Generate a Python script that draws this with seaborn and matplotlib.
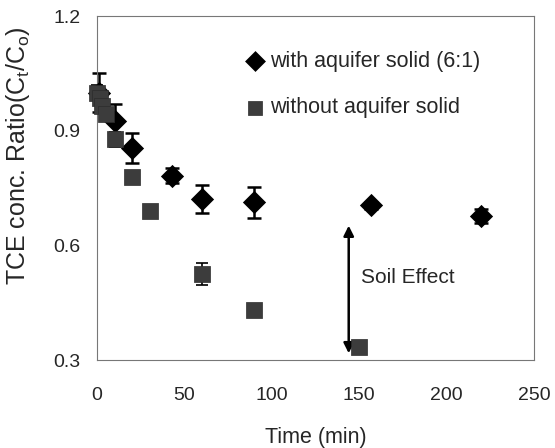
import pandas as pd
import matplotlib
matplotlib.use("Agg")
import matplotlib.pyplot as plt
import seaborn as sns

# with aquifer solid (6:1)
t_soil = [1, 10, 20, 43, 60, 90, 157, 220]
c_soil = [1.00, 0.925, 0.855, 0.783, 0.722, 0.713, 0.705, 0.677]
e_soil = [0.05, 0.045, 0.04, 0.02, 0.037, 0.04, 0.01, 0.018]

# without aquifer solid
t_water = [0, 1.5, 3, 5, 10, 20, 30, 60, 90, 150]
c_water = [1.00, 0.985, 0.965, 0.945, 0.878, 0.78, 0.69, 0.525, 0.43, 0.335]
e_water = [0.02, 0.015, 0.015, 0.015, 0.02, 0.0, 0.0, 0.028, 0.0, 0.0]

lab_soil = "with aquifer solid (6:1)"
lab_water = "without aquifer solid"

sns.set_style("white")
plt.rcParams['font.family'] = ['Liberation Sans', 'DejaVu Sans']

df_s = pd.DataFrame({"t": t_soil, "c": c_soil, "e": e_soil, "g": lab_soil})
df_w = pd.DataFrame({"t": t_water, "c": c_water, "e": e_water, "g": lab_water})

fig = plt.figure(figsize=(5.55, 4.48), dpi=100)
ax = fig.add_axes([0.175, 0.196, 0.787, 0.768])

ax.errorbar(df_s["t"], df_s["c"], yerr=df_s["e"], fmt="none", ecolor="black",
            elinewidth=1.8, capsize=5, capthick=1.8, zorder=2, clip_on=False)
ax.errorbar(df_w["t"], df_w["c"], yerr=df_w["e"], fmt="none", ecolor="black",
            elinewidth=1.2, capsize=4, capthick=1.2, zorder=2, clip_on=False)

sns.scatterplot(data=df_s, x="t", y="c", marker="D", s=140, color="black",
                edgecolor="black", linewidth=0, ax=ax, label=lab_soil,
                zorder=3, clip_on=False)
sns.scatterplot(data=df_w, x="t", y="c", marker="s", s=140, color="#3c3c3c",
                edgecolor="#2c2c2c", linewidth=0.5, ax=ax, label=lab_water,
                zorder=4, clip_on=False)

# Soil effect arrow
ax.annotate("", xy=(144, 0.318), xytext=(144, 0.652),
            arrowprops=dict(arrowstyle="<|-|>", color="black", lw=1.8,
                            mutation_scale=15, shrinkA=0, shrinkB=0))
ax.text(151, 0.515, "Soil Effect", fontsize=15, va="center", ha="left")

ax.set_xlim(0, 250)
ax.set_ylim(0.3, 1.2)
ax.set_xticks([0, 50, 100, 150, 200, 250])
ax.set_yticks([0.3, 0.6, 0.9, 1.2])
ax.set_yticklabels(["0.3", "0.6", "0.9", "1.2"])
ax.tick_params(direction="in", length=4, width=0.6, color="#666666",
               labelsize=14)
ax.tick_params(axis="x", pad=19)
ax.tick_params(axis="y", pad=12)
ax.set_xlabel("Time (min)", fontsize=15.5, labelpad=17)
ax.set_ylabel("TCE conc. Ratio(C$_\\mathregular{t}$/C$_\\mathregular{o}$)",
              fontsize=18)
ax.yaxis.set_label_coords(-0.149, 0.596)

for side in ["left", "bottom", "top", "right"]:
    ax.spines[side].set_visible(True)
    ax.spines[side].set_color("#777777")
    ax.spines[side].set_linewidth(0.8)
ax.spines["right"].set_linestyle((0, (2, 1)))

leg = ax.legend(loc="upper left", bbox_to_anchor=(0.337, 0.90), frameon=False,
                fontsize=15.5, handletextpad=0.2, labelspacing=1.2,
                borderaxespad=0, borderpad=0, handlelength=1.0, markerscale=0.9)

fig.savefig("out.png", dpi=100)
